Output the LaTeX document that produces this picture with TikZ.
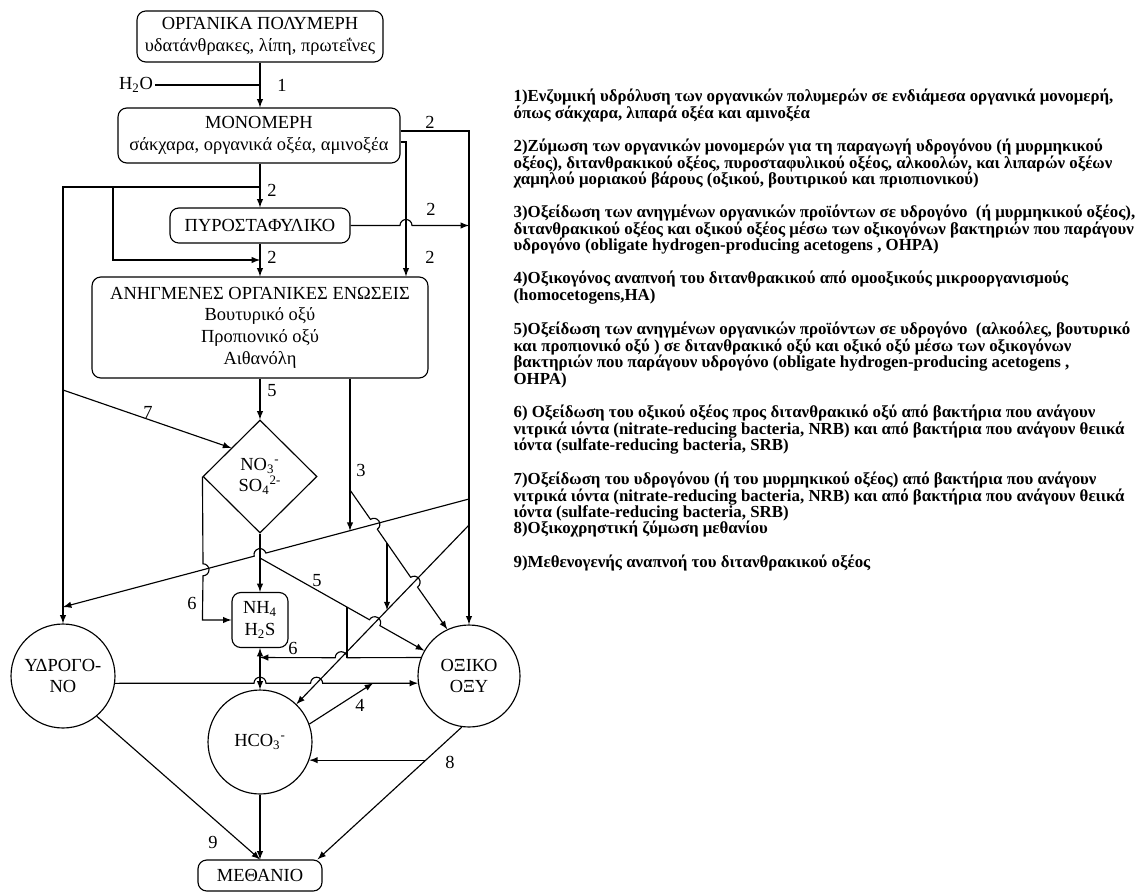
\documentclass[tikz,border=0pt]{standalone}
\usepackage{fontspec}
\setmainfont{Liberation Serif}
\usetikzlibrary{shapes.geometric}
\usetikzlibrary{positioning}
\usetikzlibrary{calc}

% a small half-circle hop where a line passes over another one
\newcommand{\linehop}[3]{-- ($(#1)+(#2+180:6)$) arc[start angle=#2+180, delta angle=#3, radius=0.12cm]}

\begin{document}
\begin{tikzpicture}[
    x=0.02cm, y=0.02cm,
    line width=0.65pt,
    box/.style={
        rectangle,
        draw,
        rounded corners=5pt,
        align=center,
        inner sep=1pt,
        font=\fontsize{10.5}{12.3}\selectfont
    },
    ring/.style={
        circle,
        draw,
        align=center,
        inner sep=0pt,
        font=\fontsize{10.5}{12.3}\selectfont
    },
    rhomb/.style={
        diamond,
        aspect=1,
        draw,
        align=center,
        inner sep=0pt,
        font=\fontsize{10.5}{12.3}\selectfont
    },
    lbl/.style={
        inner sep=1pt,
        font=\fontsize{10.5}{12.3}\selectfont
    },
    note/.style={
        anchor=north west,
        align=left,
        inner sep=0pt,
        font=\fontsize{9.6}{9.4}\selectfont\bfseries
    }
]
\useasboundingbox[fill=white] (0,0) rectangle (1148,-892);

\node [box, minimum width=4.92cm, minimum height=1.02cm] (poly) at (260,-36.5) {ΟΡΓΑΝΙΚΑ ΠΟΛΥΜΕΡΗ\\υδατάνθρακες, λίπη, πρωτεΐνες};
\node [box, minimum width=5.64cm, minimum height=1.1cm] (mono) at (259,-135.5) {ΜΟΝΟΜΕΡΗ\\σάκχαρα, οργανικά οξέα, αμινοξέα};
\node [box, minimum width=3.6cm, minimum height=0.7cm] (pyro) at (260,-225.5) {ΠΥΡΟΣΤΑΦΥΛΙΚΟ};
\node [box, minimum width=6.72cm, minimum height=2.02cm] (anhg) at (260,-327.5) {ΑΝΗΓΜΕΝΕΣ ΟΡΓΑΝΙΚΕΣ ΕΝΩΣΕΙΣ\\Βουτυρικό οξύ\\Προπιονικό οξύ\\Αιθανόλη};
\node [rhomb, minimum width=2.28cm, minimum height=2.26cm] (nox) at (260,-476.5) {NO\textsubscript{3}\textsuperscript{-}\\SO\textsubscript{4}\textsuperscript{2-}};
\node [box, minimum width=1.12cm, minimum height=1.1cm] (nh) at (260,-620) {NH\textsubscript{4}\\H\textsubscript{2}S};
\node [ring, minimum size=2.08cm] (hyd) at (63,-676) {ΥΔΡΟΓΟ-\\ΝΟ};
\node [ring, minimum size=2.04cm] (acet) at (469,-676) {ΟΞΙΚΟ\\ΟΞΥ};
\node [ring, minimum size=2.08cm] (bic) at (260,-742) {HCO\textsubscript{3}\textsuperscript{-}};
\node [box, minimum width=2.48cm, minimum height=0.62cm] (meth) at (260,-875.5) {ΜΕΘΑΝΙΟ};

\node [lbl] (lh2o) at (136,-85) {H\textsubscript{2}O};
\node [lbl] (l1) at (282,-85) {1};
\node [lbl] (l2a) at (272,-190) {2};
\node [lbl] (l2b) at (430,-122) {2};
\node [lbl] (l2c) at (431,-209) {2};
\node [lbl] (l2d) at (272,-257) {2};
\node [lbl] (l2e) at (430,-257) {2};
\node [lbl] (l5a) at (272,-391) {5};
\node [lbl] (l7) at (148,-412) {7};
\node [lbl] (l3) at (361,-470) {3};
\node [lbl] (l6a) at (192,-603) {6};
\node [lbl] (l5b) at (317,-581) {5};
\node [lbl] (l6b) at (293,-648) {6};
\node [lbl] (l4) at (360,-705) {4};
\node [lbl] (l8) at (450,-762) {8};
\node [lbl] (l9) at (213,-842) {9};

% hydrolysis and fermentation
\draw[->,>=latex] (poly.south) -- (poly.south |- mono.north);
\draw (lh2o.east) -- (lh2o.east -| poly.south);
\draw[->,>=latex] (pyro.north |- mono.south) -- (pyro.north);
\coordinate (j1) at (260,-187);
\coordinate (j2) at (113,-187);
\coordinate (j3) at (260,-260);
\draw[->,>=latex] (j1) -| (hyd);
\draw[->,>=latex] (j2) |- (j3);
\draw[->,>=latex] (pyro.south) -- (anhg.north);
\coordinate (k0) at (469,-131);
\coordinate (k1) at (406,-142);
\draw[->,>=latex] (mono.east |- k0) -- (k0) -- (acet);
\draw[->,>=latex] (mono.east |- k1) -- (k1) -- (k1 |- anhg.north);
\draw[->,>=latex] (pyro.east) \linehop{406,-225.5}{0}{-180} -- (pyro.east -| k0);

% reduced compounds, nitrate and sulfate
\draw[->,>=latex] (anhg.south) -- (nox.north);
\coordinate (j4) at (63,-390);
\draw[->,>=latex] (j4) -- (nox.north west);
\draw[->,>=latex] (nox.west) \linehop{203,-569.8}{-90}{-180} -- (nox.west |- nh.west) -- (nh.west);
\draw[->,>=latex] (nox.south) -- (nh.north);
\coordinate (e1) at (469,-499);
\coordinate (e2) at (469,-525);
\coordinate (r1) at (63,-607);
\draw[->,>=latex] (e1) \linehop{260,-554.6}{194.9}{180} -- (r1);
\coordinate (t3) at (350,-490);
\coordinate (t4) at (350,-530.7);
\draw[->,>=latex] (t3 |- anhg.south) -- (t4);
\draw[->,>=latex] (t3) \linehop{373.9,-524.3}{-55.1}{-180} \linehop{414.1,-582.2}{-55.1}{-180} -- (acet.115);
\coordinate (v1) at (387,-543.1);
\coordinate (v2) at (387,-610.1);
\draw[->,>=latex] (v1) -- (v2);
\draw[->,>=latex] (e2) -- (bic);
\coordinate (s1) at (260,-558);
\coordinate (s2) at (347,-607.1);
\draw[->,>=latex] (s1) \linehop{374.7,-622.7}{-29.4}{-180} -- (acet);
\draw (s2) -- (s2 |- acet.159);
\draw[->,>=latex] (acet.159) \linehop{341.2,-657.7}{180}{180} -- (acet.159 -| bic.north);
\draw[<->,>=latex] (bic) -- (nh);
\draw[->,>=latex] (hyd.-8) \linehop{260,-683.2}{0}{-180} \linehop{316.6,-683.2}{0}{-180} -- (acet.188);
\coordinate (q4) at (373,-683.2);
\draw[->,>=latex] (bic.20) -- (q4);

% methane
\draw[->,>=latex] (bic) -- (meth);
\draw[->,>=latex] (hyd.-50) -- (meth.north);
\coordinate (m8) at ($(meth.north east)+(-5,0)$);
\draw[->,>=latex] (acet.-98) -- (m8);
\path (acet.-98) -- coordinate[pos=0.25] (c8) (m8);
\draw[->,>=latex] (c8) -- (c8 -| bic.-20);

% steps
\node [note] (n1) at (513,-88.5) {1)Ενζυμική υδρόλυση των οργανικών πολυμερών σε ενδιάμεσα οργανικά μονομερή,\\όπως σάκχαρα, λιπαρά οξέα και αμινοξέα};
\node [note] (n2) at (513,-138.5) {2)Ζύμωση των οργανικών μονομερών για τη παραγωγή υδρογόνου (ή μυρμηκικού\\οξέος), διτανθρακικού οξέος, πυροσταφυλικού οξέος, αλκοολών, και λιπαρών οξέων\\χαμηλού μοριακού βάρους (οξικού, βουτιρικού και πριοπιονικού)};
\node [note] (n3) at (513,-204.5) {3)Οξείδωση των ανηγμένων οργανικών προϊόντων σε υδρογόνο \ (ή μυρμηκικού οξέος),\\διτανθρακικού οξέος και οξικού οξέος μέσω των οξικογόνων βακτηριών που παράγουν\\υδρογόνο (obligate hydrogen-producing acetogens , OHPA)};
\node [note] (n4) at (513,-270.5) {4)Οξικογόνος αναπνοή του διτανθρακικού από ομοοξικούς μικροοργανισμούς\\(homocetogens,HA)};
\node [note] (n5) at (513,-321.5) {5)Οξείδωση των ανηγμένων οργανικών προϊόντων σε υδρογόνο \ (αλκοόλες, βουτυρικό\\και προπιονικό οξύ ) σε διτανθρακικό οξύ και οξικό οξύ μέσω των οξικογόνων\\βακτηριών που παράγουν υδρογόνο (obligate hydrogen-producing acetogens ,\\OHPA)};
\node [note] (n6) at (513,-404.5) {6) Οξείδωση του οξικού οξέος προς διτανθρακικό οξύ από βακτήρια που ανάγουν\\νιτρικά ιόντα (nitrate-reducing bacteria, NRB) και από βακτήρια που ανάγουν θειικά\\ιόντα (sulfate-reducing bacteria, SRB)};
\node [note] (n7) at (513,-471.5) {7)Οξείδωση του υδρογόνου (ή του μυρμηκικού οξέος) από βακτήρια που ανάγουν\\νιτρικά ιόντα (nitrate-reducing bacteria, NRB) και από βακτήρια που ανάγουν θειικά\\ιόντα (sulfate-reducing bacteria, SRB)};
\node [note] (n8) at (513,-520.5) {8)Οξικοχρηστική ζύμωση μεθανίου};
\node [note] (n9) at (513,-554.5) {9)Μεθενογενής αναπνοή του διτανθρακικού οξέος};
\end{tikzpicture}
\end{document}
